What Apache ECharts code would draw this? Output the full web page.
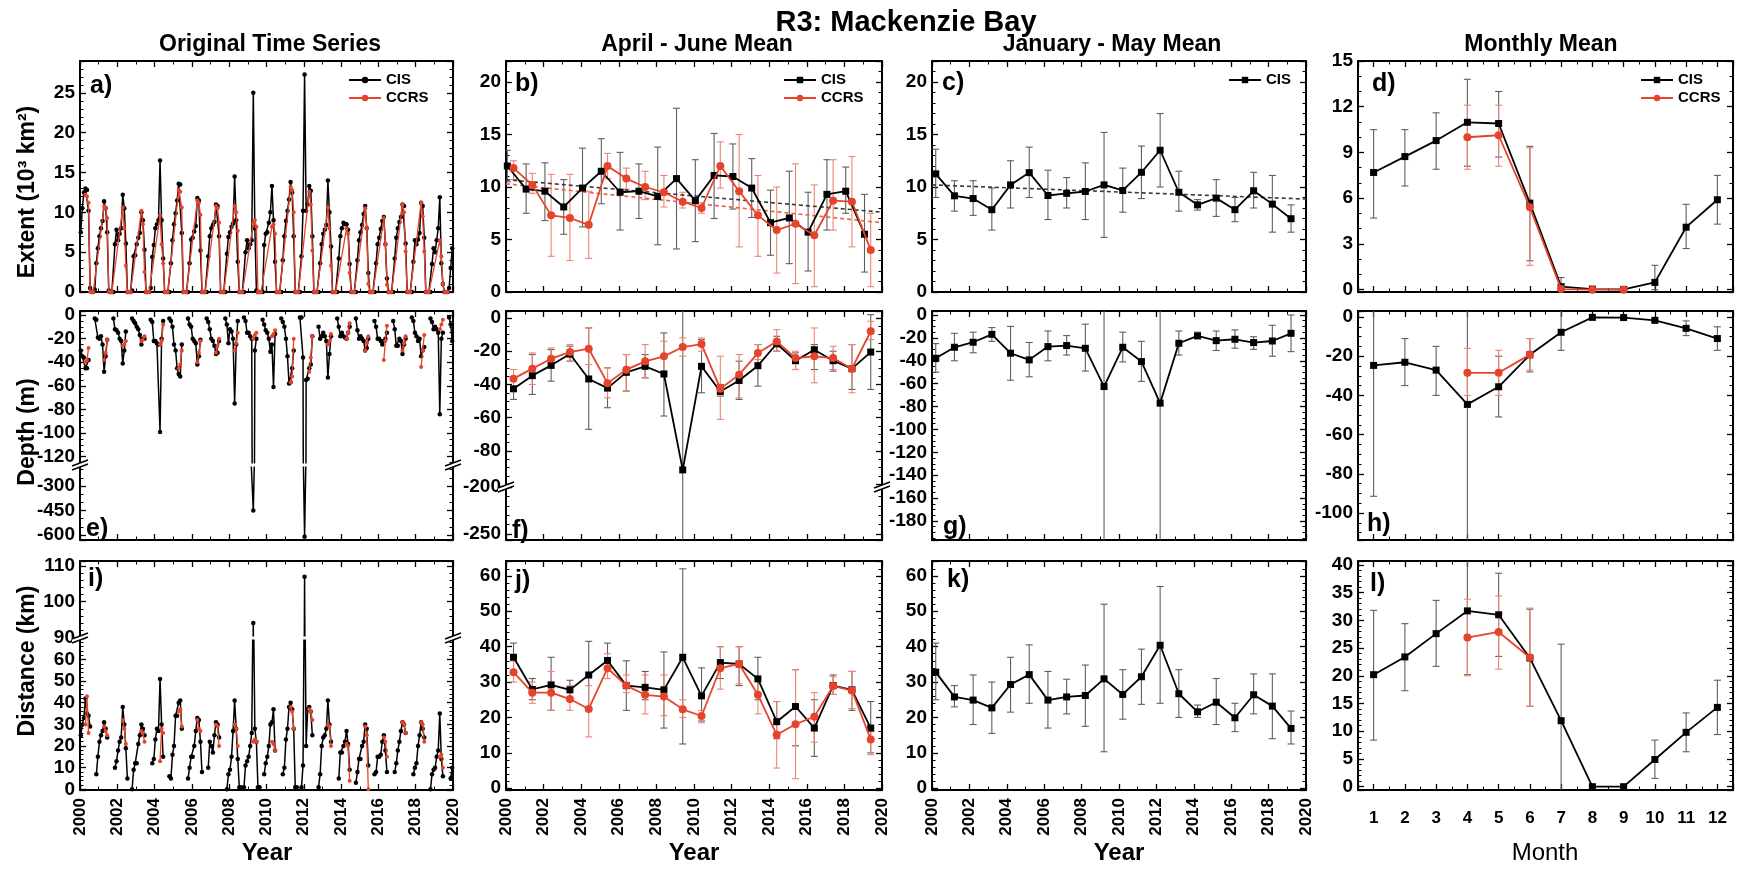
<!DOCTYPE html>
<html><head><meta charset="utf-8">
<script src="https://cdn.jsdelivr.net/npm/echarts@6/dist/echarts.min.js"></script>
<style>html,body{margin:0;padding:0;background:#fff}#c{width:1740px;height:870px}</style>
</head><body><div id="c"></div>
<script>
// ---------------- DATA ----------------
const years = [2000,2001,2002,2003,2004,2005,2006,2007,2008,2009,2010,2011,2012,2013,2014,2015,2016,2017,2018,2019];
const months = [1,2,3,4,5,6,7,8,9,10,11,12];
const monthsCCRS = [4,5,6,7,8,9];
const monthsCCRS3 = [4,5,6];

// Original time series (monthly, Jan..Dec per year)
const extentCIS = [
 [7.5,10.5,12.5,13.0,12.8,10.2,0.5,0,0,0.3,3.6,5.5],
 [7.0,8.0,8.9,11.4,10.5,7.5,0.2,0,0,0,6.0,7.8],
 [6.5,7.3,8.0,12.2,10.5,6.1,0,0,0,0.2,4.5,4.6],
 [6.0,6.8,7.4,10.0,9.0,5.3,0,0,0,0.5,4.4,5.9],
 [8.0,8.5,9.0,16.5,9.0,4.2,0,0,0,0,3.6,6.5],
 [8.5,9.9,11.5,13.6,13.5,7.4,0,0,0,0,3.6,6.6],
 [6.8,7.6,8.3,11.8,11.5,5.2,0,0,0,0,4.5,7.0],
 [8.0,8.4,8.8,11.0,10.8,7.0,0,0,0,0,4.8,6.9],
 [7.5,8.2,8.6,14.5,9.0,3.8,0,0,0,0,5.0,6.5],
 [5.5,6.0,6.5,25.0,8.0,0.2,0,0,0,0,5.9,7.3],
 [7.5,8.7,10.0,13.3,9.0,3.8,0,0,0,0,4.0,7.0],
 [8.9,10.2,11.6,13.8,12.5,7.0,0,0,0,0,4.5,10.2],
 [27.3,10.2,11.0,13.3,12.7,7.0,0,0,0,0,3.6,6.0],
 [7.3,7.8,8.4,14.0,10.0,5.7,0,0,0,0,4.2,7.0],
 [8.0,8.7,8.5,8.5,7.8,3.5,0,0,0,0,4.0,6.5],
 [7.5,8.4,9.8,10.8,8.0,2.4,0,0,0,0,3.6,6.0],
 [6.8,7.9,8.9,9.4,6.0,1.7,0,0,0,0,4.2,6.8],
 [8.0,8.8,9.4,11.0,10.8,6.1,0,0,0,0,3.8,6.5],
 [6.0,6.6,7.4,11.2,10.8,6.8,0,0,0,0,3.5,5.5],
 [5.0,6.5,8.0,11.9,3.6,1.0,0,0,0,0.5,3.0,5.5]
];
// CCRS Apr..Sep per year
const extentCCRS = [
 [12.2,12.0,11.2,0,0,0],[10.8,10.5,9.3,0,0,0],[10.6,8.0,3.3,0,0,0],[10.2,8.5,2.5,0,0,0],
 [9.6,6.0,3.6,0,0,0],[12.8,12.6,10.6,0,0,0],[11.5,11.2,9.7,0,0,0],[10.8,10.5,8.7,0,0,0],
 [10.8,10.0,7.7,0,0,0],[8.6,9.0,8.2,0,0,0],[8.2,8.5,7.3,0,0,0],[13.2,12.8,10.0,0,0,0],
 [12.6,11.0,5.2,0,0,0],[10.6,8.0,3.3,0,0,0],[8.0,7.3,2.4,0,0,0],[10.5,8.0,1.0,0,0,0],
 [9.3,6.0,0.9,0,0,0],[11.0,10.0,5.1,0,0,0],[11.2,9.5,5.1,0,0,0],[6.5,4.5,1.0,0,0,0]
];
const depthCIS = [
 [-30,-35,-36,-45,-45,-38,null,null,null,-3,-4,-19],
 [-20,-18,-25,-48,-35,-21,null,null,null,-3,-12,-13],
 [-15,-20,-22,-41,-30,-14,null,null,null,-3,-5,-7],
 [-10,-12,-17,-25,-20,-20,null,null,null,-4,-6,-22],
 [-22,-24,-25,-99,-20,-5,null,null,null,-3,-5,-10],
 [-25,-30,-45,-50,-52,-25,null,null,null,-3,-8,-10],
 [-20,-22,-24,-42,-35,-21,null,null,null,-3,-6,-12],
 [-20,-22,-26,-33,-32,-22,null,null,null,-3,-8,-24],
 [-12,-14,-20,-75,-25,-5,null,null,null,-2,-5,-15],
 [-15,-18,-20,-450,-30,-20,null,null,null,-4,-8,-13],
 [-15,-20,-31,-25,-61,-16,null,null,null,-3,-6,-10],
 [-20,-35,-58,-57,-45,-30,null,null,null,-2,-2,-36],
 [-610,-55,-54,-45,-42,-18,null,null,null,-10,-20,-18],
 [-15,-18,-22,-53,-33,-18,null,null,null,-3,-10,-18],
 [-15,-18,-19,-20,-15,-10,null,null,null,-3,-13,-20],
 [-18,-20,-22,-30,-28,-20,null,null,null,-5,-10,-20],
 [-20,-22,-25,-22,-20,-15,null,null,null,-5,-12,-26],
 [-26,-20,-22,-33,-25,-20,null,null,null,-2,-5,-15],
 [-18,-22,-20,-35,-30,-27,null,null,null,-3,-6,-12],
 [-10,-12,-15,-84,-20,-15,null,null,null,-2,-8,-22]
];
// CCRS Apr..Jun per year
const depthCCRS = [
 [-40,-38,-28],[-38,-32,-21],[-26,-25,-22],[-22,-21,-18],[-25,-22,-8],[-45,-42,-30],[-40,-32,-22],
 [-32,-26,-20],[-30,-24,-15],[-20,-17,-15],[-18,-16,-13],[-57,-52,-20],[-48,-36,-18],[-25,-22,-16],
 [-20,-15,-7],[-30,-24,-18],[-38,-22,-9],[-30,-24,-18],[-44,-30,-17],[-12,-8,-4]
];
const distCIS = [
 [25,30,33,42,35,34,29,null,null,null,7,15],
 [22,25,27,31,28,24,null,null,null,null,10,13],
 [18,22,24,38,30,19,5,null,null,0,9,12],
 [12,21,25,30,28,25,null,null,null,null,12,14],
 [23,28,27,51,30,15,null,null,null,6,5,16],
 [20,34,34,40,41,28,null,null,null,5,10,15],
 [15,20,27,33,32,22,8,null,null,null,10,22],
 [20,17,25,31,30,24,null,null,null,null,0,7],
 [9,15,27,41,28,14,1,1,null,1,11,13],
 [15,20,26,94,28,22,1,1,null,null,7,12],
 [15,20,30,31,37,18,null,null,null,null,7,10],
 [23,28,38,40,37,28,1,1,null,null,1,11],
 [107,20,37,38,36,25,null,null,null,1,7,20],
 [24,25,28,41,30,22,null,null,null,null,5,17],
 [17,20,22,27,21,9,null,null,null,3,8,14],
 [14,20,22,30,28,11,null,null,null,7,8,15],
 [15,16,22,25,18,8,null,null,null,null,8,12],
 [18,22,27,31,30,26,null,null,null,null,7,10],
 [12,20,25,31,28,24,null,null,null,0,7,9],
 [10,15,18,35,14,6,null,null,null,null,5,10]
];
const distCCRS = [
 [30,43,26],[29,27,25],[32,28,21],[27,26,22],[13,28,26],[36,37,29],[32,28,27],[30,29,20],
 [30,28,20],[22,23,22],[22,21,18],[38,36,28],[37,36,32],[30,29,20],[21,20,4],[29,25,0],
 [24,22,15],[31,30,26],[31,30,22],[15,16,10]
];

// April-June means (b, f, j)
const extAMJ_CIS    = [12.0,9.8,9.6,8.1,9.9,11.5,9.5,9.6,9.1,10.8,8.7,11.1,11.0,9.9,6.6,7.05,5.7,9.3,9.6,5.5];
const extAMJ_CIS_lo = [10.5,7.5,6.8,5.5,6.2,8.4,5.9,7.0,4.5,4.1,4.8,7.0,7.9,7.1,3.5,2.7,2.0,5.9,7.5,1.9];
const extAMJ_CIS_hi = [13.5,12.2,12.3,10.7,13.7,14.6,13.3,12.2,13.8,17.5,12.6,15.1,14.1,12.7,9.7,11.5,9.5,12.6,11.9,9.3];
const extAMJ_CCRS    = [11.8,10.2,7.3,7.05,6.4,12.0,10.8,10.0,9.5,8.6,8.0,12.0,9.6,7.3,5.9,6.5,5.4,8.7,8.6,4.0];
const extAMJ_CCRS_lo = [10.7,9.4,3.4,3.0,3.2,10.8,9.8,8.8,8.1,8.0,7.5,9.9,4.3,3.4,1.8,0.8,0.5,5.9,4.3,0.5];
const extAMJ_CCRS_hi = [12.5,11.3,11.2,11.2,9.6,13.2,11.8,11.5,11.1,9.5,8.5,14.3,15.0,11.1,10.0,12.2,10.2,12.6,12.9,7.5];
const extAMJ_trendCIS  = [[2000,10.7],[2020,7.6]];
const extAMJ_trendCCRS = [[2000,10.3],[2020,6.6]];

const depAMJ_CIS    = [-42.6,-34.7,-28.5,-21.7,-36.7,-42.2,-32.7,-29.1,-33.7,-91.4,-29.1,-44.2,-37.6,-28.7,-15.5,-25.7,-19.1,-25.7,-30.5,-20.5];
const depAMJ_CIS_lo = [-49,-46,-38,-26,-67,-54,-44,-36,-59,-265,-45,-47,-49,-41,-20,-31,-31,-32,-43,-43];
const depAMJ_CIS_hi = [-36,-22,-19,-17,-6,-30,-22,-22,-9,10,-13,-40,-26,-16,-11,-21,-16,-20,-16,2];
const depAMJ_CCRS    = [-36.5,-30.5,-24.5,-20.5,-18.5,-39.2,-31.1,-26.1,-23.1,-17.5,-15.7,-42.6,-34.1,-21.1,-14.1,-24.1,-23.1,-24.1,-30.5,-8.0];
const depAMJ_CCRS_lo = [-44,-40,-30,-26,-28,-48,-44,-36,-32,-23,-20,-61,-48,-25,-20,-31,-39,-31,-45,-13];
const depAMJ_CCRS_hi = [-31,-21,-18,-16,-6,-30,-22,-16,-14,-12,-12,-23,-22,-16,-7,-20,-6,-17,-16,-2];

const dstAMJ_CIS    = [37.0,27.9,29.2,27.8,32.0,36.1,29.0,28.5,27.8,37.0,26.1,35.5,35.1,30.9,18.8,23.1,17.0,29.0,27.8,17.0];
const dstAMJ_CIS_lo = [33,25,22,25,22,31,22,25,17,12.5,19,31,29,25,14,12,9,26.5,22,10];
const dstAMJ_CIS_hi = [41,31,37,30.5,41.5,41,36,33,38.5,62,34,40,40,37,24.5,33.5,25,32,33,24.5];
const dstAMJ_CCRS    = [32.8,27.0,27.0,25.2,22.4,33.9,29.0,26.4,25.9,22.3,20.4,33.9,35.1,26.4,15.1,18.1,20.2,28.9,27.6,13.8];
const dstAMJ_CCRS_lo = [30,24,22,22,14.5,31,27,21,20.5,20,18.5,28,29.5,21,5.7,2.7,13,26.5,22.5,9.5];
const dstAMJ_CCRS_hi = [36,30,33,29,29,38,32,32,32,25,22,40,40,31,24.5,33.5,27,31.5,33,16];

// January-May means (c, g, k)
const extJFM_CIS    = [11.25,9.16,8.9,7.84,10.2,11.37,9.19,9.4,9.57,10.2,9.67,11.4,13.5,9.5,8.3,8.94,7.84,9.64,8.37,6.98];
const extJFM_CIS_lo = [9.0,7.7,7.3,5.9,8.0,9.0,6.9,8.0,6.9,5.2,7.6,8.9,10.0,7.7,7.8,7.2,6.7,8.0,5.7,5.7];
const extJFM_CIS_hi = [13.6,10.6,10.6,9.9,12.5,13.8,11.6,10.9,12.3,15.2,11.8,13.9,17.0,11.5,8.8,10.7,9.0,11.4,11.1,8.3];
const extJFM_trendCIS = [[2000,10.2],[2020,8.85]];

const depJFM_CIS    = [-37.8,-28.2,-23.8,-16.9,-33.4,-39.2,-27.6,-26.7,-29.1,-62.5,-28.2,-40.7,-77.0,-24.7,-18.3,-22.4,-21.2,-24.1,-22.7,-16.0];
const depJFM_CIS_lo = [-50,-40,-33,-23,-57,-54,-40,-35,-49,-205,-41,-58,-205,-35,-19.5,-31,-29,-30,-36,-32];
const depJFM_CIS_hi = [-25,-16,-15,-11,-10,-24,-14,-18,-8,6,-15,-23,6,-14,-15,-14,-13,-19,-9,0];

const dstJFM_CIS    = [32.8,25.8,24.9,22.7,29.3,32.1,24.9,25.8,26.2,30.9,26.5,31.5,40.4,26.7,21.6,24.3,19.9,26.4,23.2,16.9];
const dstJFM_CIS_lo = [25,23,18,15.5,21.5,24,17,21,17.5,10.3,19.5,23.7,24,20,20,18,16,21,14,12.5];
const dstJFM_CIS_hi = [41,29,32,30,37,40.5,33,30.8,34.8,52,33.5,39.3,57,33.5,23.5,31,24,32.3,32.3,21.8];

// Monthly means (d, h, l)
const extMon_CIS    = [7.69,8.73,9.78,10.98,10.9,5.68,0.2,0.04,0.02,0.48,4.1,5.9];
const extMon_CIS_lo = [4.7,6.8,7.9,8.1,8.7,1.9,0,null,null,0,2.7,4.3];
const extMon_CIS_hi = [10.5,10.5,11.6,13.8,13.0,9.4,0.8,null,null,1.6,5.6,7.5];
const extMon_CCRS    = [10.0,10.13,5.41,0.04,0,0];
const extMon_CCRS_lo = [7.9,8.1,1.6,null,null,null];
const extMon_CCRS_hi = [12.1,12.1,9.3,null,null,null];

const depMon_CIS    = [-24.7,-23.1,-27.1,-44.6,-35.6,-19.3,-7.8,-0.2,-0.3,-1.7,-5.8,-11.0];
const depMon_CIS_lo = [-91.5,-35,-40,-120,-51,-28,-17,null,null,-2.5,-9.5,-17];
const depMon_CIS_hi = [42,-11,-15,30,-20,-11,4,null,null,-1,-2,-5];
const depMon_CCRS    = [-28.5,-28.5,-19.2];
const depMon_CCRS_lo = [-40,-40,-27];
const depMon_CCRS_hi = [-16,-17,-11];

const dstMon_CIS    = [20.2,23.4,27.6,31.7,31.0,23.2,11.9,0,0,4.9,9.8,14.3];
const dstMon_CIS_lo = [8.4,17.3,21.7,20.2,23.5,14.5,-2,null,null,1.5,6.3,9.4];
const dstMon_CIS_hi = [31.8,29.4,33.6,44,38.5,32,25.7,null,null,8.4,13.3,19.2];
const dstMon_CCRS    = [26.9,27.9,23.3];
const dstMon_CCRS_lo = [20,21.2,14.5];
const dstMon_CCRS_hi = [33.8,34.4,32.2];

// plotting offsets within a year (mid-period positions)
const OFF_AMJ_EXT_CIS = 0.07, OFF_AMJ = 0.4, OFF_JFM = 0.2;

// ---------------- LAYOUT / STYLE ----------------
const FONT = '"Liberation Sans", Arial, Helvetica, sans-serif';
const RED = '#e6432c', RED_ERR = '#ee8472', BLK = '#000', BLK_ERR = '#5e5e5e';
const COLX = [[80,453],[506,882],[932,1306],[1358,1733]];
const grids = [], xAxes = [], yAxes = [], series = [], graphics = [], legends = [];
const AXLINE = {show:true, onZero:false, lineStyle:{color:'#000', width:2}};
const TICK = {show:true, inside:true, length:6, lineStyle:{color:'#000', width:1.3}};

function addGrid(x0,x1,y0,y1){ grids.push({left:x0, top:y0, width:x1-x0, height:y1-y0, containLabel:false}); return grids.length-1; }

const YEAR_X = {scale:{min:2000, max:2020, interval:2}, minor:2,
  label:{show:true, rotate:90, margin:8, fontSize:17, fontWeight:'bold', color:'#000', fontFamily:FONT, formatter:v=>String(v)}};
const MONTH_X = {scale:{min:0.5, max:12.5, minInterval:1, maxInterval:1}, minor:2,
  label:{show:true, margin:20, fontSize:17, fontWeight:'bold', color:'#000', fontFamily:FONT, showMinLabel:false, showMaxLabel:false, formatter:v=>String(v)}};

function addX(g, pos, cfg, labels){
  xAxes.push(Object.assign({type:'value', gridIndex:g, position:pos, axisLine:AXLINE, axisTick:TICK,
    minorTick:{show:true, splitNumber:cfg.minor, length:3.5, lineStyle:{color:'#000', width:1}},
    splitLine:{show:false}, minorSplitLine:{show:false},
    axisLabel: labels ? cfg.label : {show:false}}, cfg.scale));
  return xAxes.length-1;
}
function addY(g, pos, c, labels){
  const lab = {show:true, margin:5, fontSize:19, fontWeight:'bold', color:'#000', fontFamily:FONT, formatter: c.fmt || (v=>String(v))};
  if (c.hideMin) lab.showMinLabel = false;
  if (c.hideMax) lab.showMaxLabel = false;
  yAxes.push({type:'value', gridIndex:g, position:pos, min:c.min, max:c.max, minInterval:c.step, maxInterval:c.step,
    axisLine:AXLINE, axisTick:TICK,
    minorTick:{show:true, splitNumber:c.minor, length:3.5, lineStyle:{color:'#000', width:1}},
    splitLine:{show:false}, minorSplitLine:{show:false},
    axisLabel: labels ? lab : {show:false}});
  return yAxes.length-1;
}
// bottom: 'labels' | 'ticks' | 'none'; top: bool
function panel(col, y0, y1, yc, xcfg, bottom, top){
  const [x0,x1] = COLX[col];
  const g = addGrid(x0,x1,y0,y1);
  let xi = null;
  if (bottom !== 'none') xi = addX(g,'bottom',xcfg,bottom==='labels');
  if (top){ const t = addX(g,'top',xcfg,false); if (xi===null) xi = t; }
  const yi = addY(g,'left',yc,true);
  addY(g,'right',yc,false);
  return {xi, yi};
}

// ---------------- SERIES HELPERS ----------------
function monthlyTS(rows, firstMonth, gapAfter){
  const out = [];
  rows.forEach((r,i)=>{
    r.forEach((v,j)=> out.push([years[i] + (firstMonth-1+j+0.5)/12, v==null ? '-' : v]));
    if (gapAfter) out.push([years[i] + (firstMonth-1+r.length+0.5)/12, '-']);
  });
  return out;
}
function tsLine(name, data, ax, color, size, width, z){
  series.push({type:'line', name, data, xAxisIndex:ax.xi, yAxisIndex:ax.yi, clip:true, z,
    symbol:'circle', symbolSize:size, showSymbol:true, connectNulls:false,
    lineStyle:{color, width}, itemStyle:{color}, emphasis:{disabled:true}, animation:false});
}
function meanLine(name, xs, ys, ax, color, symbol, size, z){
  series.push({type:'line', name, data: xs.map((x,i)=>[x, ys[i]]), xAxisIndex:ax.xi, yAxisIndex:ax.yi, clip:true, z,
    symbol, symbolSize:size, showSymbol:true, lineStyle:{color, width:1.8}, itemStyle:{color, borderWidth:0},
    emphasis:{disabled:true}, animation:false});
}
function trend(data, ax, color){
  series.push({type:'line', data, xAxisIndex:ax.xi, yAxisIndex:ax.yi, clip:true, z:3, symbol:'none',
    lineStyle:{color, width:1.6, type:[4,3]}, emphasis:{disabled:true}, animation:false});
}
function errBars(xs, lo, hi, ax, color){
  const data = [];
  xs.forEach((x,i)=>{ if (lo[i]!=null && hi[i]!=null) data.push([x, lo[i], hi[i]]); });
  series.push({type:'custom', xAxisIndex:ax.xi, yAxisIndex:ax.yi, clip:true, z:2, silent:true, animation:false,
    encode:{x:0, y:[1,2]}, data,
    renderItem:(p, api)=>{
      const a = api.coord([api.value(0), api.value(2)]);
      const b = api.coord([api.value(0), api.value(1)]);
      const s = {stroke:color, lineWidth:1.1};
      const c = 3.5;
      return {type:'group', children:[
        {type:'line', shape:{x1:a[0], y1:a[1], x2:b[0], y2:b[1]}, style:s},
        {type:'line', shape:{x1:a[0]-c, y1:a[1], x2:a[0]+c, y2:a[1]}, style:s},
        {type:'line', shape:{x1:b[0]-c, y1:b[1], x2:b[0]+c, y2:b[1]}, style:s}
      ]};
    }});
}
const xsOf = off => years.map(y => y + off);

// ---------------- PANELS ----------------
const R1 = [61,292], R2 = [311,540], R3 = [561,790];

// a) extent original
const pa = panel(0, R1[0], R1[1], {min:0, max:29, step:5, minor:5, hideMax:true}, YEAR_X, 'ticks', true);
tsLine('CIS ', monthlyTS(extentCIS,1,false), pa, BLK, 4.5, 1.5, 4);
tsLine('CCRS ', monthlyTS(extentCCRS,4,false), pa, RED, 4, 1.3, 5);

// b) extent AMJ
const pb = panel(1, R1[0], R1[1], {min:0, max:22, step:5, minor:5, hideMax:true}, YEAR_X, 'ticks', true);
errBars(xsOf(OFF_AMJ_EXT_CIS), extAMJ_CIS_lo, extAMJ_CIS_hi, pb, BLK_ERR);
errBars(xsOf(OFF_AMJ), extAMJ_CCRS_lo, extAMJ_CCRS_hi, pb, RED_ERR);
trend(extAMJ_trendCIS, pb, '#3a3a3a');
trend(extAMJ_trendCCRS, pb, '#e8604c');
meanLine('CIS', xsOf(OFF_AMJ_EXT_CIS), extAMJ_CIS, pb, BLK, 'rect', 7, 4);
meanLine('CCRS', xsOf(OFF_AMJ), extAMJ_CCRS, pb, RED, 'circle', 8, 5);

// c) extent JFMAM
const pc = panel(2, R1[0], R1[1], {min:0, max:22, step:5, minor:5, hideMax:true}, YEAR_X, 'ticks', true);
errBars(xsOf(OFF_JFM), extJFM_CIS_lo, extJFM_CIS_hi, pc, BLK_ERR);
trend(extJFM_trendCIS, pc, '#3a3a3a');
meanLine('CIS', xsOf(OFF_JFM), extJFM_CIS, pc, BLK, 'rect', 7, 4);

// d) extent monthly
const pd = panel(3, R1[0], R1[1], {min:-0.15, max:15, step:3, minor:3, hideMin:true}, MONTH_X, 'ticks', true);
errBars(months, extMon_CIS_lo, extMon_CIS_hi, pd, BLK_ERR);
errBars(monthsCCRS, extMon_CCRS_lo, extMon_CCRS_hi, pd, RED_ERR);
meanLine('CIS', months, extMon_CIS, pd, BLK, 'rect', 7, 4);
meanLine('CCRS', monthsCCRS, extMon_CCRS, pd, RED, 'circle', 8, 5);

// e) depth original (broken axis)
const BRK_E = 465, BRK_F = 487, BRK_I = 638;
const peU = panel(0, R2[0], BRK_E, {min:-127, max:3.4, step:20, minor:4, hideMin:true, hideMax:true}, YEAR_X, 'none', true);
const peL = panel(0, BRK_E, R2[1], {min:-630.6, max:-171.4, step:150, minor:3, hideMin:true, hideMax:true}, YEAR_X, 'ticks', false);
[peU, peL].forEach(p=>{
  tsLine('CIS ', monthlyTS(depthCIS,1,false), p, BLK, 4.5, 1.5, 4);
  tsLine('CCRS ', monthlyTS(depthCCRS,4,true), p, RED, 4, 1.3, 5);
});

// f) depth AMJ (broken axis)
const pfU = panel(1, R2[0], BRK_F, {min:-101.7, max:4.2, step:20, minor:4, hideMin:true, hideMax:true, fmt:v=> v===-100 ? '' : String(v)}, YEAR_X, 'none', true);
const pfL = panel(1, BRK_F, R2[1], {min:-256.4, max:-200, step:50, minor:5, hideMin:true}, YEAR_X, 'ticks', false);
[pfU, pfL].forEach(p=>{
  errBars(xsOf(OFF_AMJ), depAMJ_CIS_lo, depAMJ_CIS_hi, p, BLK_ERR);
  errBars(xsOf(OFF_AMJ), depAMJ_CCRS_lo, depAMJ_CCRS_hi, p, RED_ERR);
  meanLine('CIS', xsOf(OFF_AMJ), depAMJ_CIS, p, BLK, 'rect', 7, 4);
  meanLine('CCRS', xsOf(OFF_AMJ), depAMJ_CCRS, p, RED, 'circle', 8, 5);
});

// g) depth JFMAM
const pg = panel(2, R2[0], R2[1], {min:-196.6, max:3.5, step:20, minor:4, hideMin:true, hideMax:true}, YEAR_X, 'ticks', true);
errBars(xsOf(OFF_JFM), depJFM_CIS_lo, depJFM_CIS_hi, pg, BLK_ERR);
meanLine('CIS', xsOf(OFF_JFM), depJFM_CIS, pg, BLK, 'rect', 7, 4);

// h) depth monthly
const ph = panel(3, R2[0], R2[1], {min:-113.8, max:3.06, step:20, minor:4, hideMin:true, hideMax:true}, MONTH_X, 'ticks', true);
errBars(months, depMon_CIS_lo, depMon_CIS_hi, ph, BLK_ERR);
errBars(monthsCCRS3, depMon_CCRS_lo, depMon_CCRS_hi, ph, RED_ERR);
meanLine('CIS', months, depMon_CIS, ph, BLK, 'rect', 7, 4);
meanLine('CCRS', monthsCCRS3, depMon_CCRS, ph, RED, 'circle', 8, 5);

// i) distance original (broken axis)
const piU = panel(0, R3[0], BRK_I, {min:89.8, max:111.4, step:10, minor:5, hideMin:true, hideMax:true}, YEAR_X, 'none', true);
const piL = panel(0, BRK_I, R3[1], {min:-0.3, max:69.9, step:10, minor:5, hideMin:true, hideMax:true}, YEAR_X, 'labels', false);
[piU, piL].forEach(p=>{
  tsLine('CIS ', monthlyTS(distCIS,1,false), p, BLK, 4.5, 1.5, 4);
  tsLine('CCRS ', monthlyTS(distCCRS,4,true), p, RED, 4, 1.3, 5);
});

// j) distance AMJ
const pj = panel(1, R3[0], R3[1], {min:-0.5, max:64.2, step:10, minor:5, hideMin:true, hideMax:true}, YEAR_X, 'labels', true);
errBars(xsOf(OFF_AMJ), dstAMJ_CIS_lo, dstAMJ_CIS_hi, pj, BLK_ERR);
errBars(xsOf(OFF_AMJ), dstAMJ_CCRS_lo, dstAMJ_CCRS_hi, pj, RED_ERR);
meanLine('CIS', xsOf(OFF_AMJ), dstAMJ_CIS, pj, BLK, 'rect', 7, 4);
meanLine('CCRS', xsOf(OFF_AMJ), dstAMJ_CCRS, pj, RED, 'circle', 8, 5);

// k) distance JFMAM
const pk = panel(2, R3[0], R3[1], {min:-0.5, max:64.2, step:10, minor:5, hideMin:true, hideMax:true}, YEAR_X, 'labels', true);
errBars(xsOf(OFF_JFM), dstJFM_CIS_lo, dstJFM_CIS_hi, pk, BLK_ERR);
meanLine('CIS', xsOf(OFF_JFM), dstJFM_CIS, pk, BLK, 'rect', 7, 4);

// l) distance monthly
const pl = panel(3, R3[0], R3[1], {min:-0.6, max:40.7, step:5, minor:5, hideMin:true, hideMax:true}, MONTH_X, 'labels', true);
errBars(months, dstMon_CIS_lo, dstMon_CIS_hi, pl, BLK_ERR);
errBars(monthsCCRS3, dstMon_CCRS_lo, dstMon_CCRS_hi, pl, RED_ERR);
meanLine('CIS', months, dstMon_CIS, pl, BLK, 'rect', 7, 4);
meanLine('CCRS', monthsCCRS3, dstMon_CCRS, pl, RED, 'circle', 8, 5);

// ---------------- LEGENDS ----------------
function legend(left, names){
  legends.push({left, top:72, orient:'vertical', padding:0, itemGap:2, itemWidth:32, itemHeight:8,
    data:names, selectedMode:false, formatter: n => n.trim(),
    textStyle:{fontSize:15, fontWeight:'bold', color:'#000', fontFamily:FONT, lineHeight:16}});
}
legend(348, ['CIS ','CCRS ']);
legend(783, ['CIS','CCRS']);
legend(1228, ['CIS']);
legend(1640, ['CIS','CCRS']);

// ---------------- TEXT & DECORATION ----------------
function txt(x, y, s, size, weight, align, rot){
  graphics.push({type:'text', x, y, rotation: rot||0, z:100, silent:true,
    style:{text:s, fontSize:size, fontWeight:weight, fontFamily:FONT, fill:'#000', textAlign:align||'center', textVerticalAlign:'middle'}});
}
txt(906, 23, 'R3: Mackenzie Bay', 29, 'bold');
txt(270, 45, 'Original Time Series', 23, 'bold');
txt(697, 45, 'April - June Mean', 23, 'bold');
txt(1112, 45, 'January - May Mean', 23, 'bold');
txt(1541, 45, 'Monthly Mean', 23, 'bold');
txt(28, 192, 'Extent (10³ km²)', 23, 'bold', 'center', Math.PI/2);
txt(28, 432, 'Depth (m)', 23, 'bold', 'center', Math.PI/2);
txt(28, 661, 'Distance (km)', 23, 'bold', 'center', Math.PI/2);
txt(267, 853, 'Year', 24, 'bold');
txt(694, 853, 'Year', 24, 'bold');
txt(1119, 853, 'Year', 24, 'bold');
txt(1545, 853, 'Month', 24, 'normal');
const letters = [['a)',90,86],['b)',515,84],['c)',942,83],['d)',1372,84],['e)',86,529],['f)',512,531],
  ['g)',943,527],['h)',1367,524],['i)',88,579],['j)',515,581],['k)',947,580],['l)',1370,584]];
letters.forEach(([s,x,y])=>txt(x, y, s, 25, 'bold', 'left'));

function breakMark(x, y){
  graphics.push({type:'polygon', z:101, silent:true, shape:{points:[[x-8,y+1],[x+8,y-5],[x+8,y-1],[x-8,y+5]]}, style:{fill:'#fff'}});
  graphics.push({type:'line', z:102, silent:true, shape:{x1:x-8,y1:y+1,x2:x+8,y2:y-5}, style:{stroke:'#000', lineWidth:1.4}});
  graphics.push({type:'line', z:102, silent:true, shape:{x1:x-8,y1:y+5,x2:x+8,y2:y-1}, style:{stroke:'#000', lineWidth:1.4}});
}
function gapBand(col, y){
  const [x0,x1] = COLX[col];
  graphics.push({type:'rect', z:99, silent:true, shape:{x:x0+2, y:y-1.5, width:x1-x0-4, height:3}, style:{fill:'#fff'}});
}
gapBand(0, BRK_E); gapBand(0, BRK_I);
breakMark(80, BRK_E); breakMark(453, BRK_E);
breakMark(506, BRK_F); breakMark(882, BRK_F);
breakMark(80, BRK_I); breakMark(453, BRK_I);

// ---------------- CHART ----------------
const chart = echarts.init(document.getElementById('c'), null, {renderer:'canvas'});
chart.setOption({
  animation:false, backgroundColor:'#fff', textStyle:{fontFamily:FONT},
  grid:grids, xAxis:xAxes, yAxis:yAxes, series, legend:legends, graphic:{elements:graphics}
});
</script></body></html>
